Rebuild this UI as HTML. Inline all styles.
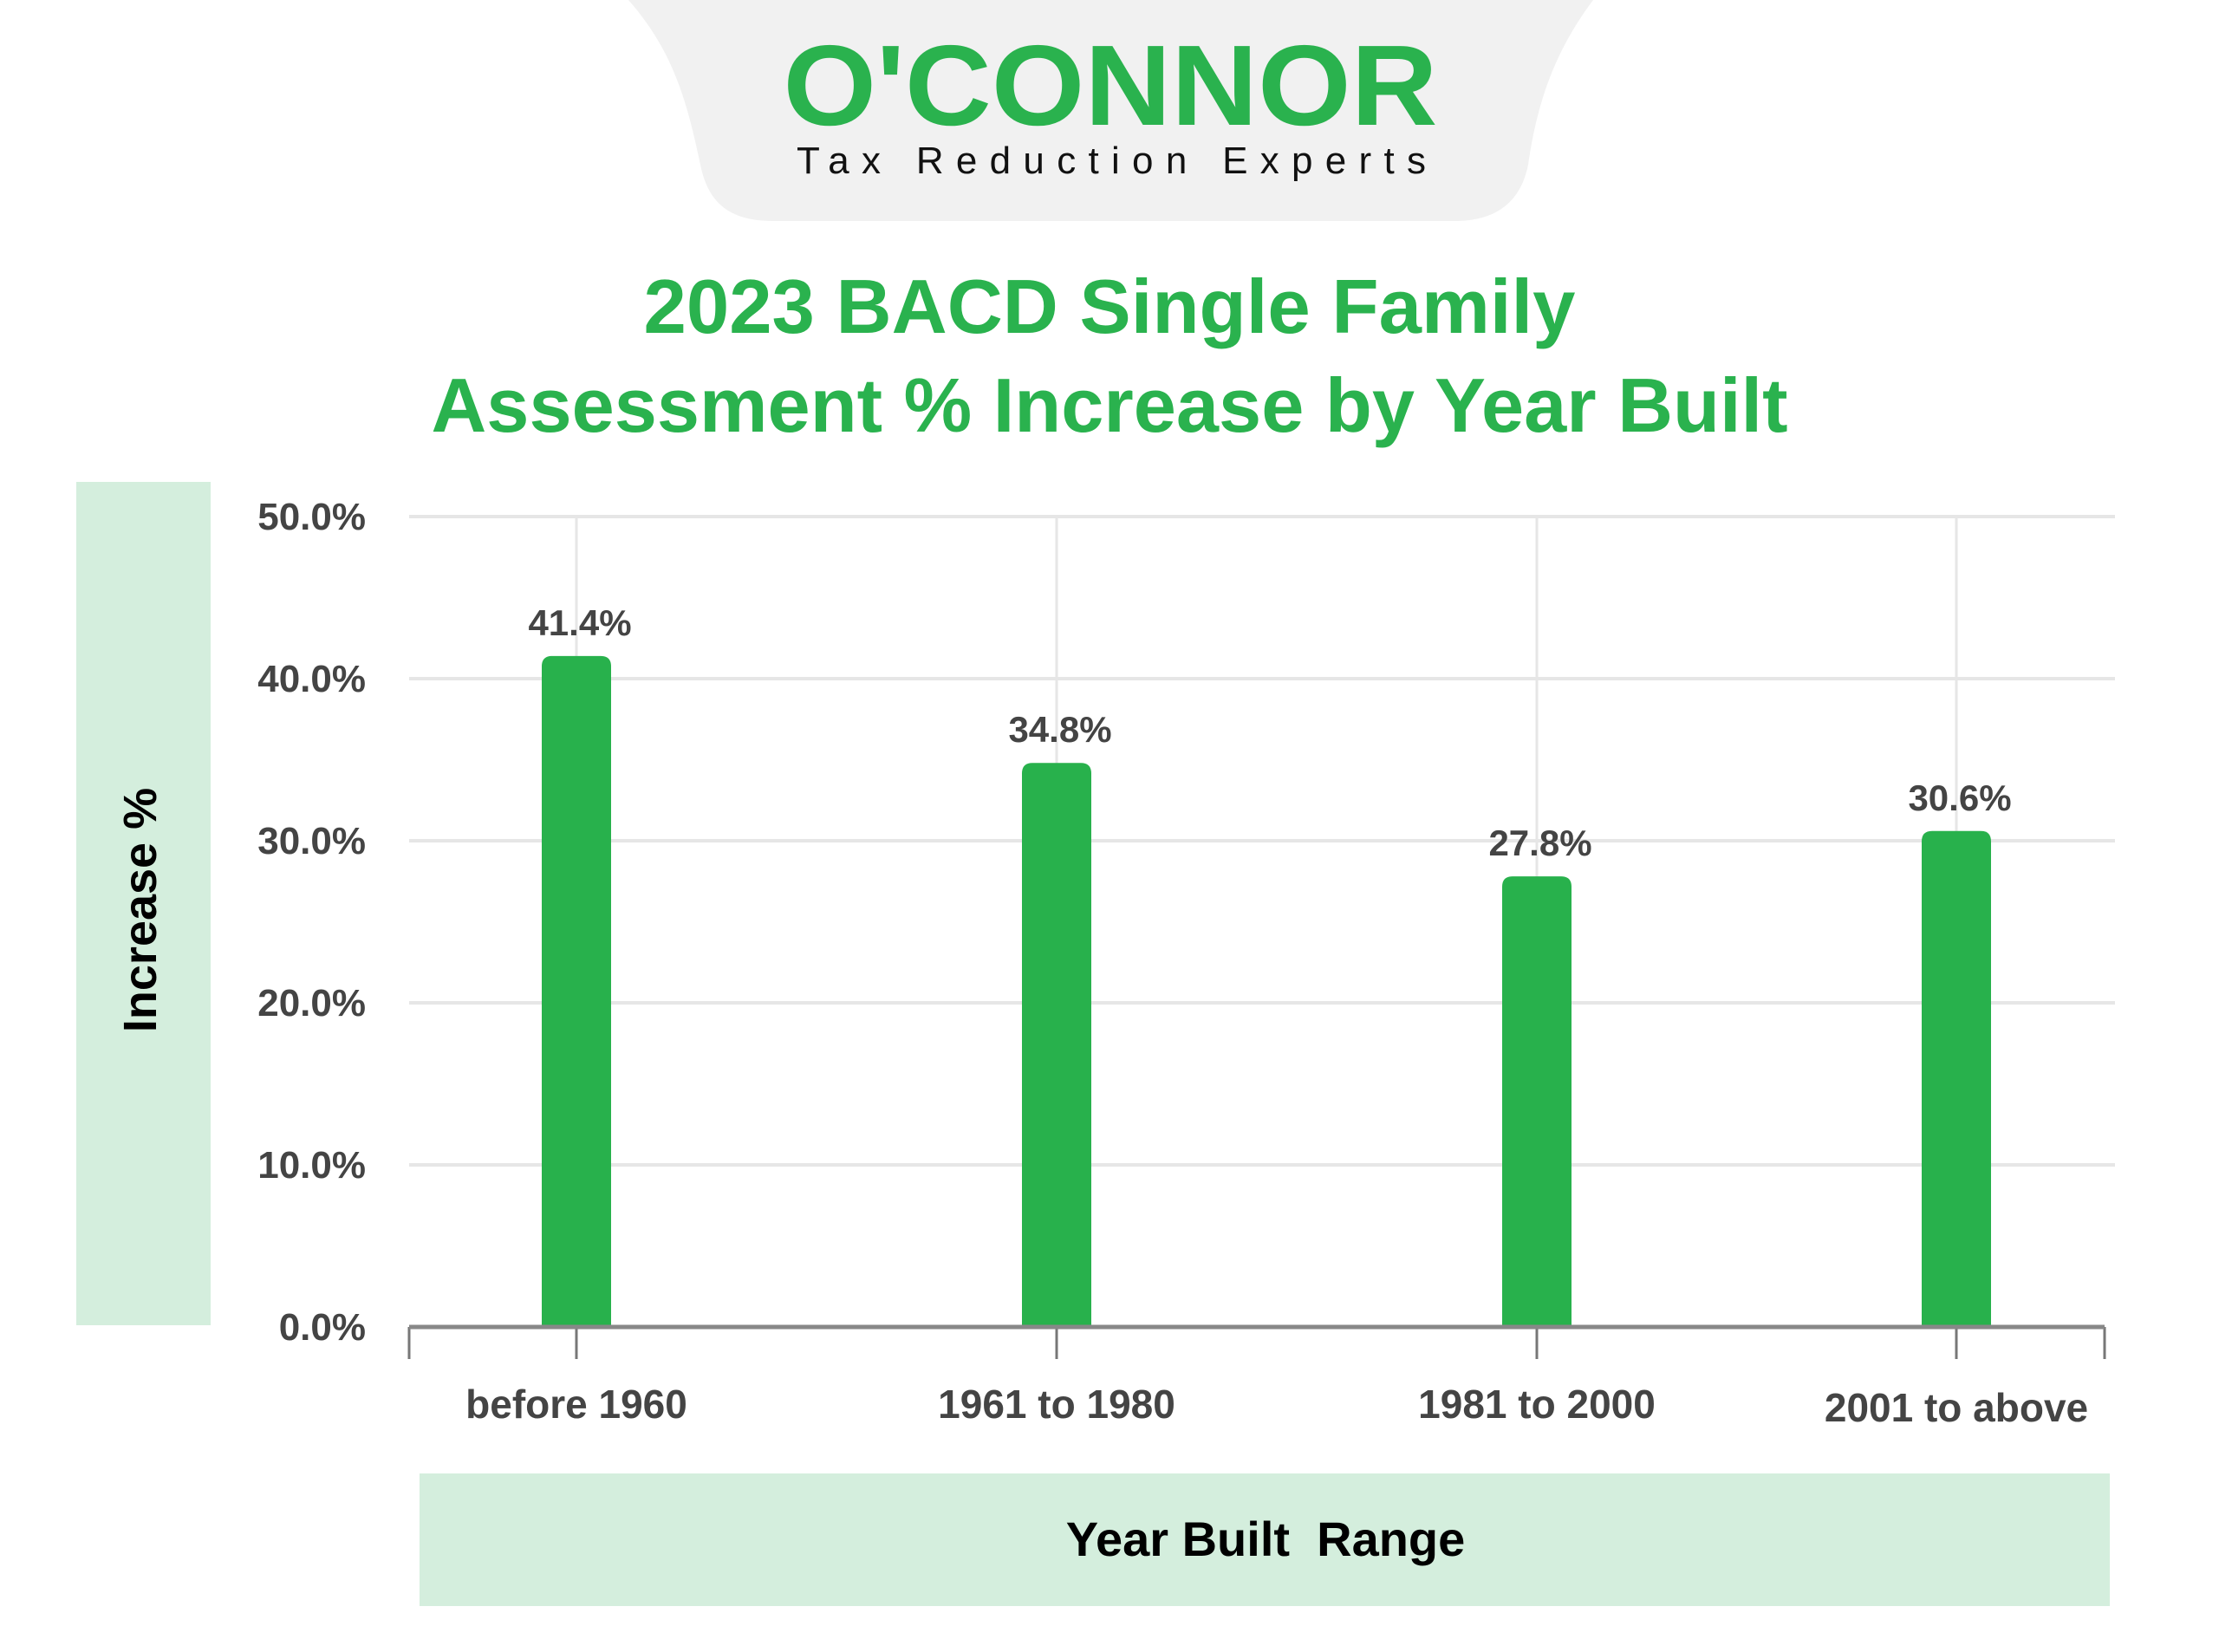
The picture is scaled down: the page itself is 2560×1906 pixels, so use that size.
<!DOCTYPE html>
<html><head><meta charset="utf-8"><style>
html,body{margin:0;padding:0;background:#fff;}
body{width:2560px;height:1901px;position:relative;overflow:hidden;font-family:"Liberation Sans",sans-serif;}
</style></head><body>
<svg width="2560" height="1901" viewBox="0 0 2560 1901" xmlns="http://www.w3.org/2000/svg">
  <g>
    <path d="M725,0 L1838,0 C1793,60 1773,120 1763,190 C1753,240 1718,255 1678,255 L893,255 C848,255 818,240 808,190 C793,120 778,60 725,0 Z" fill="#f1f1f1"/>
    <text x="1281" y="144" text-anchor="middle" font-size="132" font-weight="bold" fill="#2ab24e" textLength="755" lengthAdjust="spacingAndGlyphs">O'CONNOR</text>
    <text x="1282" y="200" text-anchor="middle" font-size="44" fill="#111" textLength="726" lengthAdjust="spacing">Tax Reduction Experts</text>
  </g>
  <g font-weight="bold" fill="#2ab24e" font-size="88" text-anchor="middle">
    <text x="1280" y="384" textLength="1075" lengthAdjust="spacingAndGlyphs">2023 BACD Single Family</text>
    <text x="1280" y="498" textLength="1565" lengthAdjust="spacingAndGlyphs">Assessment % Increase by Year Built</text>
  </g>
  <rect x="88" y="556" width="155" height="973" fill="#d4eedd"/>
  <text transform="translate(180,1050) rotate(-90)" text-anchor="middle" font-size="54" font-weight="bold" fill="#000">Increase %</text>
  <rect x="484" y="1700" width="1950" height="153" fill="#d4eedd"/>
  <text x="1460" y="1795" text-anchor="middle" font-size="56" font-weight="bold" fill="#000" xml:space="preserve">Year Built  Range</text>
  <g id="plot"></g>
</svg>
<script>
const categories = ["before 1960", "1961 to 1980", "1981 to 2000", "2001 to above"];
const values = [41.4, 34.8, 27.8, 30.6];
const valueLabels = ["41.4%", "34.8%", "27.8%", "30.6%"];
const yTicks = [0, 10, 20, 30, 40, 50];
const yTickLabels = ["0.0%", "10.0%", "20.0%", "30.0%", "40.0%", "50.0%"];

const NS = "http://www.w3.org/2000/svg";
const plot = document.getElementById("plot");
const x0 = 472, x1 = 2428, yBase = 1531, yTop = 596, yMax = 50;
const centers = [665, 1219, 1773, 2257];
function yScale(v){ return yBase - (v / yMax) * (yBase - yTop); }
function xScale(i){ return centers[i]; }
function mk(tag, attrs){ const e = document.createElementNS(NS, tag); for (const k in attrs) e.setAttribute(k, attrs[k]); plot.appendChild(e); return e; }

yTicks.forEach((t, i) => {
  if (t > 0) {
    const g = mk("line", {x1: x0, x2: 2440, y1: yScale(t), y2: yScale(t), stroke: "#e6e6e6", "stroke-width": 4});
    
    
  }
  const l = mk("text", {x: 422, y: yScale(t) + 15, "text-anchor": "end", "font-size": 44, "font-weight": "bold", fill: "#444"});
  l.textContent = yTickLabels[i];
  
  
});

categories.forEach((c, i) => {
  const cx = xScale(i);
  const vg = mk("line", {x1: cx, x2: cx, y1: yTop, y2: yBase, stroke: "#e6e6e6", "stroke-width": 3});
  
  
  const top = yScale(values[i]);
  const r = 12, w = 80, lx = cx - w/2;
  const bar = mk("path", {d: `M${lx},${yBase} L${lx},${top+r} Q${lx},${top} ${lx+r},${top} L${lx+w-r},${top} Q${lx+w},${top} ${lx+w},${top+r} L${lx+w},${yBase} Z`, fill: "#28b14c"});
  
  
  const vl = mk("text", {x: cx + 4, y: top - 24, "text-anchor": "middle", "font-size": 42, "font-weight": "bold", fill: "#444"});
  vl.textContent = valueLabels[i];
  
  
  const tk = mk("line", {x1: cx, x2: cx, y1: yBase, y2: 1568, stroke: "#777", "stroke-width": 3});
  
  
  const cl = mk("text", {x: cx, y: 1636 + (i === 3 ? 4 : 0), "text-anchor": "middle", "font-size": 46, "font-weight": "bold", fill: "#444"});
  cl.textContent = c;
  
  
});
[x0, x1].forEach(xx => {
  const e = mk("line", {x1: xx, x2: xx, y1: yBase, y2: 1568, stroke: "#777", "stroke-width": 3});
  
  
});
const ax = mk("line", {x1: x0, x2: x1, y1: yBase, y2: yBase, stroke: "#888", "stroke-width": 5});


</script>
</body></html>
